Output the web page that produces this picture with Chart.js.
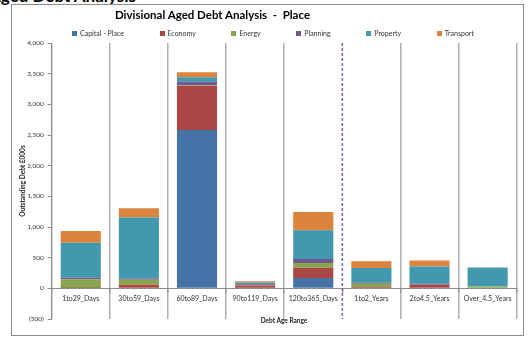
<!DOCTYPE html>
<html>
<head>
<meta charset="utf-8">
<script src="https://cdn.jsdelivr.net/npm/chart.js@4.4.1/dist/chart.umd.min.js"></script>
<style>
    html, body { margin: 0; padding: 0; background: #fff; width: 531px; height: 338px; overflow: hidden; font-family: Lato, 'Liberation Sans', sans-serif; }
    #wrap { position: relative; width: 531px; height: 338px; overflow: hidden; }
    #frame { position: absolute; left: 11px; top: 4px; width: 513px; height: 332px; border: 1px solid #8c8c8c; box-sizing: border-box; }
    #header { position: absolute; left: -11px; top: -13px; font-size: 17px; line-height: 17px; font-weight: bold; color: #000; white-space: nowrap; }
    #title { position: absolute; left: 0; width: 425px; top: 8px; text-align: center; font-size: 11.5px; font-weight: bold; color: #000; white-space: nowrap; }
    #legend { position: absolute; left: 72px; width: 402px; top: 28px; height: 9px; display: flex; justify-content: space-between; align-items: center; font-size: 7px; color: #333; }
    #legend span.box { display: inline-block; width: 5px; height: 5px; margin-right: 3px; vertical-align: middle; }
    #xtitle { position: absolute; left: 184px; width: 200px; top: 317px; text-align: center; font-size: 6.5px; font-weight: bold; color: #222; }
    canvas { position: absolute; left: 0; top: 0; }
</style>
</head>
<body>
<div id="wrap">
    <div id="header">Aged Debt Analysis</div>
    <div id="frame"></div>
    <canvas id="chart" width="531" height="338"></canvas>
    <div id="title">Divisional Aged Debt Analysis &nbsp;-&nbsp; Place</div>
    <div id="legend"></div>
    <div id="xtitle">Debt Age Range</div>
</div>
<script>
// dados (£000s)
const categories = ['1to29_Days', '30to59_Days', '60to89_Days', '90to119_Days', '120to365_Days', '1to2_Years', '2to4.5_Years', 'Over_4.5_Years'];
const capitalPlace = [0, 0, 2580, 0, 170, 0, 0, 0];
const economy = [5, 60, 725, 45, 165, 20, 55, 10];
const energy = [145, 80, 5, 10, 80, 55, 5, 20];
const planning = [25, 20, 60, 10, 65, 15, 15, 0];
const property = [570, 995, 70, 30, 465, 240, 280, 310];
const transport = [190, 150, 85, 20, 300, 110, 100, 0];
const yTicks = [-500, 0, 500, 1000, 1500, 2000, 2500, 3000, 3500, 4000];

const series = [
    { label: 'Capital - Place', data: capitalPlace, color: '#4572A7' },
    { label: 'Economy', data: economy, color: '#AA4643' },
    { label: 'Energy', data: energy, color: '#89A54E' },
    { label: 'Planning', data: planning, color: '#71588F' },
    { label: 'Property', data: property, color: '#4198AF' },
    { label: 'Transport', data: transport, color: '#DB843D' }
];

// legenda
const legendEl = document.getElementById('legend');
series.forEach(s => {
    const item = document.createElement('div');
    item.innerHTML = `<span class="box" style="background:${s.color}"></span>${s.label}`;
    legendEl.appendChild(item);
});

// linha tracejada entre dias e anos
const dividerPlugin = {
    id: 'divider',
    afterDatasetsDraw(chart) {
        const { ctx, scales: { x, y } } = chart;
        const px = (x.getPixelForValue(4) + x.getPixelForValue(5)) / 2;
        ctx.save();
        ctx.strokeStyle = '#7F5FA8';
        ctx.lineWidth = 1.5;
        ctx.setLineDash([3, 2]);
        ctx.beginPath();
        ctx.moveTo(px, y.top);
        ctx.lineTo(px, y.bottom);
        ctx.stroke();
        ctx.restore();
    }
};

const fmt = v => {
    const s = Math.abs(v).toLocaleString('en-US');
    return v < 0 ? `(${s})` : s;
};

new Chart(document.getElementById('chart'), {
    type: 'bar',
    data: {
        labels: categories,
        datasets: series.map(s => ({
            label: s.label,
            data: s.data,
            backgroundColor: s.color,
            borderWidth: 0,
            barPercentage: 0.69,
            categoryPercentage: 1
        }))
    },
    options: {
        responsive: false,
        animation: false,
        layout: { padding: { left: 12, top: 43, right: 14.3, bottom: 19 } },
        plugins: {
            legend: { display: false },
            title: { display: false },
            tooltip: { enabled: false }
        },
        scales: {
            x: {
                stacked: true,
                position: { y: 0 },
                grid: {
                    offset: true,
                    color: ctx => ctx.index === 5 ? 'rgba(0,0,0,0)' : '#b0b0b0',
                    lineWidth: 1.5,
                    tickLength: 4,
                    tickColor: '#999'
                },
                border: { color: '#8c8c8c', width: 1 },
                ticks: {
                    font: { family: 'Lato', size: 7 },
                    color: '#333',
                    padding: 2,
                    maxRotation: 0,
                    autoSkip: false
                }
            },
            y: {
                stacked: true,
                min: -500,
                max: 4000,
                afterFit: s => { s.width = 39.7; },
                afterBuildTicks: s => { s.ticks = yTicks.map(v => ({ value: v })); },
                grid: { drawOnChartArea: false, tickLength: 4, tickColor: '#8c8c8c' },
                border: { color: '#8c8c8c', width: 1 },
                ticks: {
                    font: { family: 'Lato', size: 6.5 },
                    color: '#333',
                    padding: 4,
                    callback: v => fmt(v)
                },
                title: {
                    display: true,
                    text: 'Outstanding Debt £000s',
                    font: { family: 'Lato', size: 6.5, weight: 'bold' },
                    color: '#222',
                    padding: { top: 7.4, bottom: 0 }
                }
            }
        }
    },
    plugins: [dividerPlugin]
});
</script>
</body>
</html>
